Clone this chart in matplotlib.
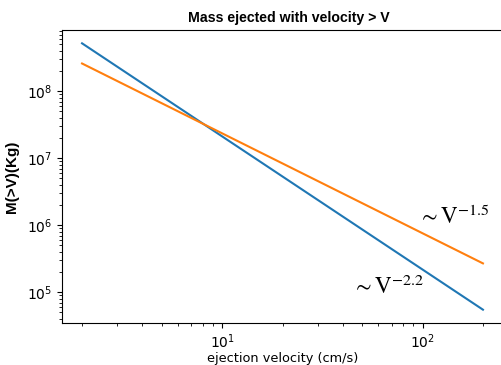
import matplotlib
matplotlib.use("Agg")
import matplotlib.pyplot as plt

velocity = [2, 200]
mass_steep = [5.2e8, 5.5e4]
mass_shallow = [2.6e8, 2.7e5]
label_steep = r"$\sim \mathrm{V}^{-2.2}$"
label_shallow = r"$\sim \mathrm{V}^{-1.5}$"

plt.rcParams['mathtext.fontset'] = 'stix'

fig = plt.figure(figsize=(5.01, 3.65), dpi=100)
W, H = 501, 365
ax = fig.add_axes([62 / W, 1 - 323 / H, (503 - 62) / W, (323 - 30) / H])
ax.plot(velocity, mass_steep, color='tab:blue', lw=1.5)
ax.plot(velocity, mass_shallow, color='tab:orange', lw=1.5)
ax.set_xscale('log')
ax.set_yscale('log')
ax.set_xlabel('ejection velocity (cm/s)', fontsize=9.3, labelpad=0.5)
ax.set_ylabel('M(>V)(Kg)', fontsize=11, fontweight='bold',
              family='Liberation Sans', labelpad=6)
fig.text(289 / W, 1 - 18 / H, 'Mass ejected with velocity > V', fontsize=10.2,
         fontweight='bold', family='Liberation Sans',
         ha='center', va='center')
ax.text(95.3, 10**6.025, label_shallow, fontsize=16.5, ha='left', va='baseline')
ax.text(44.6, 10**4.98, label_steep, fontsize=16.5, ha='left', va='baseline')

fig.savefig('out.png', dpi=100)
